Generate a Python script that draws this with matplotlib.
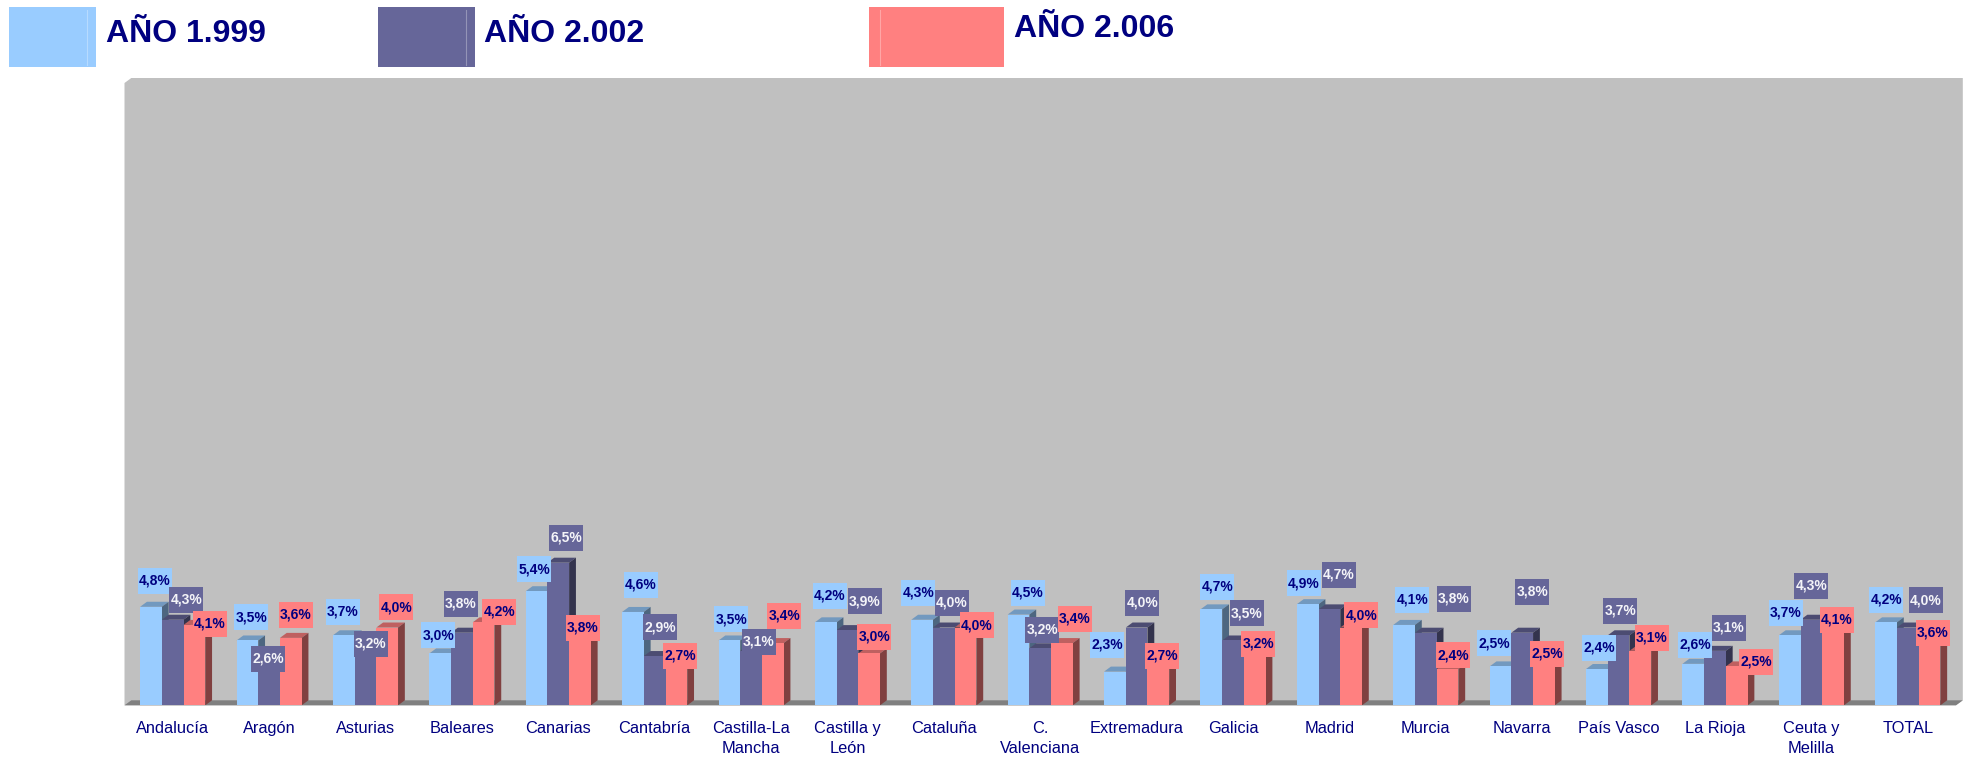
#!/usr/bin/env python3
from __future__ import annotations

import matplotlib

matplotlib.use("Agg")
import matplotlib.pyplot as plt
from matplotlib.patches import Polygon, Rectangle

plt.rcParams["font.family"] = ["Liberation Sans", "DejaVu Sans"]

categories = [
    "Andalucía", "Aragón", "Asturias", "Baleares", "Canarias", "Cantabría",
    "Castilla-La\nMancha", "Castilla y\nLeón", "Cataluña", "C.\nValenciana",
    "Extremadura", "Galicia", "Madrid", "Murcia", "Navarra", "País Vasco",
    "La Rioja", "Ceuta y\nMelilla", "TOTAL",
]
series_names = ["AÑO 1.999", "AÑO 2.002", "AÑO 2.006"]
values_1999 = [4.8, 3.5, 3.7, 3.0, 5.4, 4.6, 3.5, 4.2, 4.3, 4.5, 2.3, 4.7, 4.9, 4.1, 2.5, 2.4, 2.6, 3.7, 4.2]
values_2002 = [4.3, 2.6, 3.2, 3.8, 6.5, 2.9, 3.1, 3.9, 4.0, 3.2, 4.0, 3.5, 4.7, 3.8, 3.8, 3.7, 3.1, 4.3, 4.0]
values_2006 = [4.1, 3.6, 4.0, 4.2, 3.8, 2.7, 3.4, 3.0, 4.0, 3.4, 2.7, 3.2, 4.0, 2.4, 2.5, 3.1, 2.5, 4.1, 3.6]

# hand-placed data labels: pixel offset from the top centre of each bar
label_dx_1999 = [4, 4, -1, -2, -2.5, 8, 2, 4, -4, 9.5, -8, 6, -4, 8, -6.5, 2, 2, -4, 0]
label_up_1999 = [26, 23, 23.5, 18, 22, 27, 21, 26.5, 27, 22, 27, 22.5, 21, 25, 23, 21, 19, 22.5, 22.5]
label_dx_2002 = [13.5, -1, 5.5, -1, 8, 5.5, 8, 17.5, 8, 2, 5.5, 14, 9.5, 28, 10, 1.5, 14, 0, 18]
label_up_2002 = [20, 5, 4.5, 29, 25, 29, 9, 29, 25, 18.5, 25, 27, 34.5, 34, 41, 24.5, 23, 34, 27.5]
label_dx_2006 = [15.5, 5, 9, 15.5, 3, 3.5, 11.5, 5, 11.5, 13, 3.5, 3.5, 10, 5.5, 3, 11.5, 19.5, 4, 3.5]
label_up_2006 = [1, 23, 20.5, 10.5, 5, 5.5, 27.5, 16.5, 2.5, 24.5, 5.5, 4.5, 12.5, 13.5, 12.5, 13, 4.5, 5, 5]

WIDTH, HEIGHT = 1972, 760
NAVY = "#000080"
FRONT = ["#99CCFF", "#666699", "#FF8080"]
TOP = ["#7299BF", "#4C4C72", "#BF6060"]
SIDE = ["#4D6680", "#33334D", "#804040"]
LABEL_TEXT = [NAVY, "#F4F4F8", NAVY]

PLOT_LEFT, PLOT_RIGHT = 124.5, 1956.0
PLOT_BOTTOM, PLOT_TOP = 705.3, 83.0
Y_MIN, Y_MAX = 1, 25
BAR_PX = 21.7
DEPTH_X_PX, DEPTH_Y_PX = 6.8, 5.0
LABEL_W_PX, LABEL_H_PX = 34, 26

PX_PER_CATEGORY = (PLOT_RIGHT - PLOT_LEFT) / len(categories)
PX_PER_UNIT = (PLOT_BOTTOM - PLOT_TOP) / (Y_MAX - Y_MIN)


def main() -> None:
    figure = plt.figure(figsize=(WIDTH / 100, HEIGHT / 100), dpi=100, facecolor="white")
    axis = figure.add_axes([
        PLOT_LEFT / WIDTH,
        1 - PLOT_BOTTOM / HEIGHT,
        (PLOT_RIGHT - PLOT_LEFT) / WIDTH,
        (PLOT_BOTTOM - PLOT_TOP) / HEIGHT,
    ])
    x_min, x_max = -0.5, len(categories) - 0.5
    axis.set_xlim(x_min, x_max)
    axis.set_ylim(Y_MIN, Y_MAX)
    axis.patch.set_visible(False)
    for spine in axis.spines.values():
        spine.set_visible(False)
    axis.set_yticks([])

    bar_width = BAR_PX / PX_PER_CATEGORY
    depth_x = DEPTH_X_PX / PX_PER_CATEGORY
    depth_y = DEPTH_Y_PX / PX_PER_UNIT

    # back wall and floor of the 3D box
    axis.add_patch(Polygon(
        [(x_min, Y_MIN), (x_min, Y_MAX), (x_min + depth_x, Y_MAX + depth_y),
         (x_max + depth_x, Y_MAX + depth_y), (x_max + depth_x, Y_MIN + depth_y), (x_max, Y_MIN)],
        facecolor="#C0C0C0", edgecolor="none", clip_on=False, zorder=0,
    ))
    axis.add_patch(Polygon(
        [(x_min, Y_MIN), (x_min + depth_x, Y_MIN + depth_y),
         (x_max + depth_x, Y_MIN + depth_y), (x_max, Y_MIN)],
        facecolor="#808080", edgecolor="none", clip_on=False, zorder=1,
    ))

    all_values = [values_1999, values_2002, values_2006]
    all_dx = [label_dx_1999, label_dx_2002, label_dx_2006]
    all_up = [label_up_1999, label_up_2002, label_up_2006]

    for s, values in enumerate(all_values):
        positions = [i + (s - 1) * bar_width for i in range(len(categories))]
        heights = [value - Y_MIN for value in values]
        axis.bar(positions, heights, bottom=Y_MIN, width=bar_width, color=FRONT[s],
                 linewidth=0, zorder=3)
        for x, value, dx, up in zip(positions, values, all_dx[s], all_up[s]):
            left, right = x - bar_width / 2, x + bar_width / 2
            axis.add_patch(Polygon(
                [(left, value), (left + depth_x, value + depth_y),
                 (right + depth_x, value + depth_y), (right, value)],
                facecolor=TOP[s], edgecolor="none", zorder=2,
            ))
            axis.add_patch(Polygon(
                [(right, Y_MIN), (right, value), (right + depth_x, value + depth_y),
                 (right + depth_x, Y_MIN + depth_y)],
                facecolor=SIDE[s], edgecolor="none", zorder=2,
            ))
            label_x = x + dx / PX_PER_CATEGORY
            label_y = value + up / PX_PER_UNIT
            box_w = LABEL_W_PX / PX_PER_CATEGORY
            box_h = LABEL_H_PX / PX_PER_UNIT
            axis.add_patch(Rectangle(
                (label_x - box_w / 2, label_y - box_h / 2), box_w, box_h,
                facecolor=FRONT[s], edgecolor="none", zorder=5,
            ))
            axis.text(label_x, label_y, f"{value:.1f}%".replace(".", ","),
                      ha="center", va="center", fontsize=10, fontweight="bold",
                      color=LABEL_TEXT[s], zorder=6)

    axis.set_xticks(range(len(categories)))
    axis.set_xticklabels(categories, fontsize=11.8, color=NAVY, linespacing=1.45)
    axis.tick_params(axis="x", length=0, pad=11)

    # legend drawn by hand: swatch with a faint seam, bold title beside it
    legend_boxes = [(9, 96, 87), (378, 474.5, 465.5), (869, 1004, 880)]
    legend_text = [(106, 42), (484, 42), (1014, 37)]
    box_top, box_bottom = 6.7, 67
    for s, name in enumerate(series_names):
        left, right, seam = legend_boxes[s]
        figure.patches.append(Rectangle(
            (left / WIDTH, 1 - box_bottom / HEIGHT),
            (right - left) / WIDTH, (box_bottom - box_top) / HEIGHT,
            transform=figure.transFigure, facecolor=FRONT[s], edgecolor="none",
        ))
        figure.add_artist(plt.Line2D(
            [seam / WIDTH, seam / WIDTH],
            [1 - (box_bottom - 2) / HEIGHT, 1 - (box_top + 3) / HEIGHT],
            transform=figure.transFigure, color="white", alpha=0.3, linewidth=0.8,
        ))
        figure.text(legend_text[s][0] / WIDTH, 1 - legend_text[s][1] / HEIGHT, name,
                    ha="left", va="baseline", fontsize=23, fontweight="bold", color=NAVY)

    figure.savefig("out.png", dpi=100)
    plt.close(figure)


if __name__ == "__main__":
    main()
